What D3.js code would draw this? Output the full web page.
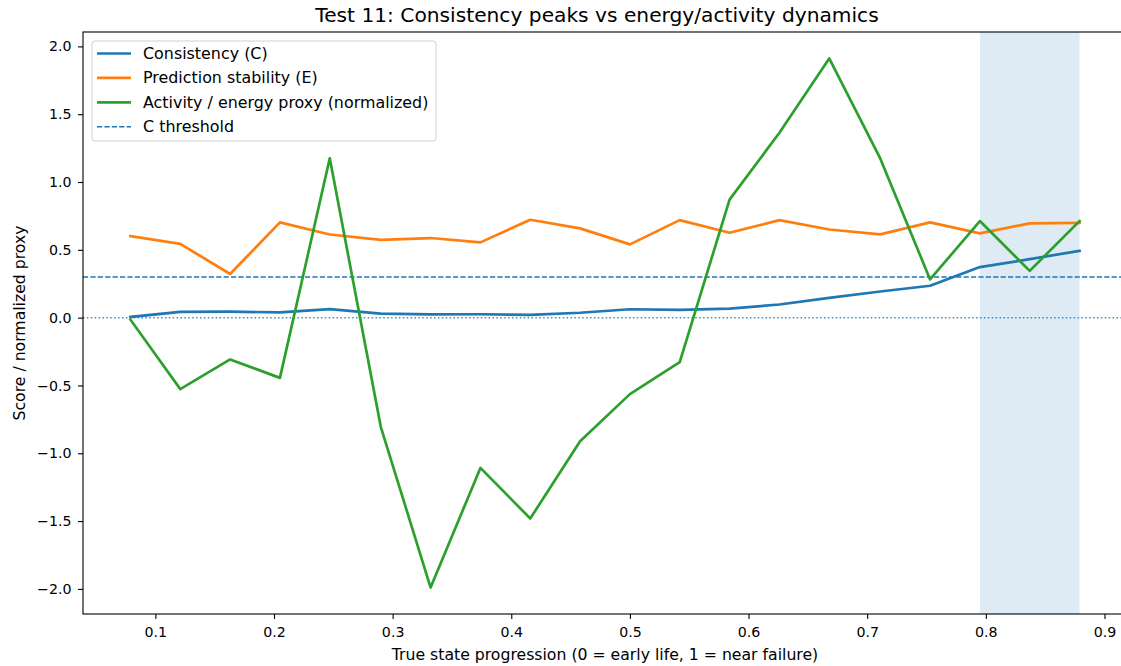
<!DOCTYPE html>
<html>
<head>
<meta charset="utf-8">
<script src="https://cdn.jsdelivr.net/npm/d3@7"></script>
<style>
  html, body { margin: 0; padding: 0; background: #fff; }
  svg { display: block; font-family: "DejaVu Sans", sans-serif; }
</style>
</head>
<body>
<svg id="chart" width="1121" height="666"></svg>
<script>
// Window positions along the life of the unit
const progression = [0.079, 0.121, 0.163, 0.205, 0.247, 0.290, 0.332, 0.374, 0.416, 0.458,
                     0.500, 0.542, 0.584, 0.626, 0.668, 0.711, 0.753, 0.795, 0.837, 0.879];
// Consistency score C
const consistency = [0.005, 0.043, 0.044, 0.039, 0.063, 0.029, 0.024, 0.025, 0.021, 0.036,
                     0.062, 0.057, 0.066, 0.097, 0.146, 0.193, 0.235, 0.373, 0.431, 0.493];
// Prediction stability E
const stability = [0.601, 0.544, 0.322, 0.702, 0.613, 0.574, 0.587, 0.555, 0.722, 0.658,
                   0.540, 0.719, 0.626, 0.719, 0.650, 0.614, 0.702, 0.621, 0.695, 0.699];
// Normalized activity / energy proxy
const activity = [-0.015, -0.527, -0.308, -0.444, 1.175, -0.805, -1.990, -1.108, -1.481, -0.911,
                  -0.564, -0.328, 0.870, 1.363, 1.911, 1.174, 0.282, 0.712, 0.345, 0.712];
const cThreshold = 0.3;
const highlightSpan = [0.795, 0.879];
const xTicks = [0.1, 0.2, 0.3, 0.4, 0.5, 0.6, 0.7, 0.8, 0.9];
const yTicks = [-2.0, -1.5, -1.0, -0.5, 0.0, 0.5, 1.0, 1.5, 2.0];
const seriesNames = ["Consistency (C)", "Prediction stability (E)", "Activity / energy proxy (normalized)", "C threshold"];

const C0 = "#1f77b4", C1 = "#ff7f0e", C2 = "#2ca02c";

const svg = d3.select("#chart");
const plotLeft = 83, plotRight = 1127, plotTop = 32, plotBottom = 614;

// axis limits with 5% padding around the data
function padded(vals) {
  const lo = d3.min(vals), hi = d3.max(vals), m = (hi - lo) * 0.05;
  return [lo - m, hi + m];
}
const x = d3.scaleLinear().domain(padded(progression)).range([plotLeft, plotRight]);
const y = d3.scaleLinear().domain(padded([...consistency, ...stability, ...activity])).range([plotBottom, plotTop]);

const defs = svg.append("defs");
defs.append("clipPath").attr("id", "plotclip")
  .append("rect").attr("x", plotLeft).attr("y", plotTop)
  .attr("width", plotRight - plotLeft).attr("height", plotBottom - plotTop);

const plot = svg.append("g").attr("clip-path", "url(#plotclip)");

// shaded late-life window
plot.append("rect")
  .attr("x", x(highlightSpan[0])).attr("y", plotTop)
  .attr("width", x(highlightSpan[1]) - x(highlightSpan[0]))
  .attr("height", plotBottom - plotTop)
  .attr("fill", C0).attr("fill-opacity", 0.15);

// reference lines
plot.append("line")
  .attr("x1", plotLeft).attr("x2", plotRight).attr("y1", y(0)).attr("y2", y(0))
  .attr("stroke", C0).attr("stroke-width", 1.5).attr("stroke-opacity", 0.85)
  .attr("stroke-dasharray", "1.5,2.4");
plot.append("line")
  .attr("x1", plotLeft).attr("x2", plotRight).attr("y1", y(cThreshold)).attr("y2", y(cThreshold))
  .attr("stroke", C0).attr("stroke-width", 1.4)
  .attr("stroke-dasharray", "5.2,2.2");

const line = d3.line().x(d => x(d[0])).y(d => y(d[1]));
const series = [
  { vals: consistency, color: C0 },
  { vals: stability, color: C1 },
  { vals: activity, color: C2 }
];
series.forEach(s => {
  plot.append("path")
    .datum(progression.map((p, i) => [p, s.vals[i]]))
    .attr("d", line)
    .attr("fill", "none")
    .attr("stroke", s.color)
    .attr("stroke-width", 2.7)
    .attr("stroke-linejoin", "round")
    .attr("stroke-linecap", "square");
});

// axes
const fmt = d => d3.format(".1f")(d).replace("-", "\u2212");
const xAxis = svg.append("g").attr("transform", `translate(0,${plotBottom})`)
  .call(d3.axisBottom(x).tickValues(xTicks).tickFormat(d3.format(".1f")).tickSize(5).tickPadding(8));
const yAxis = svg.append("g").attr("transform", `translate(${plotLeft},0)`)
  .call(d3.axisLeft(y).tickValues(yTicks).tickFormat(fmt).tickSize(5).tickPadding(6.5));
[xAxis, yAxis].forEach(g => {
  g.select(".domain").remove();
  g.selectAll(".tick line").attr("stroke", "#000").attr("stroke-width", 1.1);
  g.selectAll(".tick text").attr("fill", "#000").style("font-size", "14.2px").style("font-family", "DejaVu Sans");
});

// spines
svg.append("rect")
  .attr("x", plotLeft).attr("y", plotTop)
  .attr("width", plotRight - plotLeft).attr("height", plotBottom - plotTop)
  .attr("fill", "none").attr("stroke", "#000").attr("stroke-width", 1.1);

// title and axis labels
svg.append("text").attr("x", (plotLeft + plotRight) / 2 - 8).attr("y", plotTop - 10)
  .attr("text-anchor", "middle").style("font-size", "20.2px").attr("fill", "#000")
  .text("Test 11: Consistency peaks vs energy/activity dynamics");
svg.append("text").attr("x", (plotLeft + plotRight) / 2).attr("y", 660)
  .attr("text-anchor", "middle").style("font-size", "15.7px").attr("fill", "#000")
  .text("True state progression (0 = early life, 1 = near failure)");
svg.append("text")
  .attr("transform", `translate(25,${(plotTop + plotBottom) / 2}) rotate(-90)`)
  .attr("text-anchor", "middle").style("font-size", "15.7px").attr("fill", "#000")
  .text("Score / normalized proxy");

// legend
const lg = svg.append("g").attr("transform", "translate(92,41)");
lg.append("rect").attr("width", 344).attr("height", 100).attr("rx", 3)
  .attr("fill", "#fff").attr("fill-opacity", 0.8).attr("stroke", "#d0d0d0").attr("stroke-width", 1);
const legendStyles = [
  { color: C0, dash: null, w: 2.7 },
  { color: C1, dash: null, w: 2.7 },
  { color: C2, dash: null, w: 2.7 },
  { color: C0, dash: "5.2,2.2", w: 1.4 }
];
seriesNames.forEach((name, i) => {
  const cy = 12.5 + i * 24.4;
  const l = lg.append("line").attr("x1", 5).attr("x2", 39).attr("y1", cy).attr("y2", cy)
    .attr("stroke", legendStyles[i].color).attr("stroke-width", legendStyles[i].w);
  if (legendStyles[i].dash) l.attr("stroke-dasharray", legendStyles[i].dash);
  lg.append("text").attr("x", 51).attr("y", cy + 5.5).style("font-size", "15.9px").attr("fill", "#000").text(name);
});
</script>
</body>
</html>
